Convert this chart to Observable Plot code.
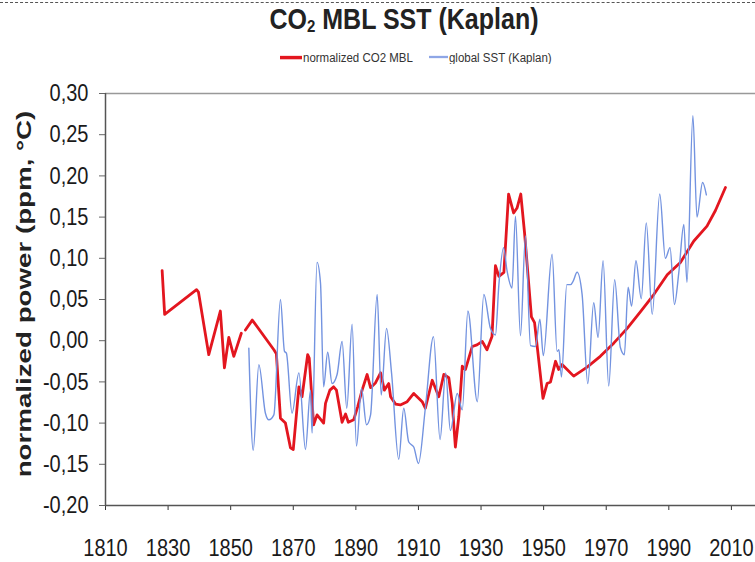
<!DOCTYPE html>
<html>
<head>
<meta charset="utf-8">
<script src="https://cdn.jsdelivr.net/npm/d3@7"></script>
<script src="https://cdn.jsdelivr.net/npm/@observablehq/plot@0.6"></script>
<style>
  body { margin: 0; background: #fff; }
  #wrap { position: relative; width: 755px; height: 562px; background: #fff; overflow: hidden; font-family: "Liberation Sans", Arial, sans-serif; }
  #dash { position: absolute; top: 2px; left: 0; width: 755px; border-top: 1px dashed #555; }
  #title { position: absolute; top: 3px; left: 404px; transform: translateX(-50%) scaleY(1.15); transform-origin: center top; font-weight: bold; font-size: 25px; color: #222; white-space: nowrap; }
  #title sub { font-size: 15px; vertical-align: -2px; }
  #legend { position: absolute; top: 51px; left: 280px; font-size: 11.5px; color: #333; white-space: nowrap; display: flex; align-items: center; transform: scaleY(1.15); transform-origin: left center; }
  .sw { display: inline-block; width: 22px; margin-right: 1px; }
  #chart { position: absolute; top: 0; left: 0; }
</style>
</head>
<body>
<div id="wrap">
  <div id="dash"></div>
  <div id="title">CO<sub>2</sub> MBL SST (Kaplan)</div>
  <div id="legend">
    <span class="sw" style="border-top:3px solid #e3161f"></span><span>normalized CO2 MBL</span>
    <span class="sw" style="border-top:2px solid #8ea6e6; margin-left:16px; width:19px"></span><span>global SST (Kaplan)</span>
  </div>
  <div id="chart"></div>
</div>
<script>
// normalized CO2 MBL (null = gap in the series)
const co2Years = [1828.1, 1828.9, 1839.1, 1839.7, 1843.0, 1846.7, 1848.0, 1849.4, 1851.0, 1853.4, 1854.0,
  1854.7, 1856.9, 1863.8, 1864.6, 1865.9, 1867.5, 1869.1, 1870.0, 1871.8, 1872.8, 1874.6, 1875.1,
  1876.5, 1877.6, 1879.7, 1880.3, 1881.7, 1882.9, 1883.8, 1885.6, 1886.7, 1887.6, 1889.3, 1890.6,
  1892.0, 1893.6, 1894.7, 1896.3, 1897.9, 1899.1, 1900.5, 1901.1, 1902.7, 1904.2, 1906.4, 1908.5,
  1911.2, 1912.2, 1914.4, 1916.5, 1918.1, 1919.7, 1920.8, 1921.8, 1922.9, 1924.0, 1925.0, 1927.2,
  1928.7, 1930.4, 1931.9, 1933.5, 1934.6, 1935.7, 1937.3, 1938.8, 1940.4, 1941.5, 1942.7, 1943.9,
  1946.1, 1947.1, 1949.8, 1951.1, 1952.2, 1953.8, 1954.8, 1955.9, 1957.5, 1959.6, 1963.9, 1968.1,
  1972.4, 1976.7, 1980.9, 1985.2, 1989.5, 1993.7, 1998.0, 2002.2, 2004.9, 2008.1];
const co2Values = [0.085, 0.032, 0.062, 0.059, -0.017, 0.036, -0.033, 0.004, -0.019, 0.009, null,
  0.013, 0.025, -0.011, -0.016, -0.094, -0.100, -0.130, -0.132, -0.056, -0.068, -0.017, -0.021,
  -0.102, -0.090, -0.100, -0.076, -0.060, -0.056, -0.060, -0.099, -0.089, -0.099, -0.096, -0.080,
  -0.060, -0.041, -0.057, -0.051, -0.039, -0.060, -0.052, -0.068, -0.077, -0.078, -0.074, -0.064,
  -0.074, -0.082, -0.048, -0.068, -0.041, -0.045, -0.076, -0.129, -0.092, -0.031, -0.035, -0.007,
  -0.005, -0.001, -0.011, 0.005, 0.091, 0.078, 0.083, 0.178, 0.155, 0.161, 0.178, 0.131,
  0.029, 0.022, -0.070, -0.052, -0.050, -0.025, -0.035, -0.029, -0.035, -0.043, -0.032, -0.019,
  -0.003, 0.015, 0.035, 0.056, 0.080, 0.095, 0.121, 0.139, 0.158, 0.186];

// global SST (Kaplan)
const sstYears = [1855.8, 1857.2, 1859.0, 1861.1, 1862.2, 1863.8, 1865.9, 1867.2, 1867.8, 1869.6,
  1871.8, 1873.9, 1875.5, 1876.0, 1877.6, 1878.7, 1879.7, 1881.0, 1882.4, 1884.0, 1885.6, 1887.1,
  1888.8, 1890.2, 1891.8, 1893.4, 1894.7, 1896.8, 1898.1, 1899.8, 1901.4, 1903.7, 1905.3, 1906.9,
  1908.5, 1910.0, 1912.2, 1914.8, 1916.9, 1918.7, 1920.2, 1922.4, 1924.0, 1925.8, 1928.8, 1930.9,
  1933.0, 1934.6, 1935.7, 1937.2, 1938.3, 1939.9, 1941.0, 1942.6, 1944.2, 1945.8, 1947.4, 1948.8,
  1949.9, 1952.7, 1954.3, 1954.9, 1955.7, 1957.4, 1958.6, 1959.4, 1960.7, 1962.3, 1964.1, 1966.0,
  1967.4, 1969.0, 1970.8, 1972.7, 1974.5, 1975.8, 1977.0, 1978.1, 1979.5, 1981.2, 1982.8, 1984.7,
  1987.1, 1988.9, 1990.4, 1991.8, 1993.2, 1994.8, 1995.8, 1997.7, 1999.0, 2000.8, 2002.0];
const sstValues = [-0.009, -0.133, -0.029, -0.088, -0.096, -0.090, 0.050, -0.013, -0.015, -0.088,
  -0.039, -0.132, -0.060, -0.112, 0.095, 0.070, -0.056, -0.014, -0.052, -0.041, -0.001, -0.082,
  0.020, -0.128, -0.058, -0.102, -0.090, 0.056, -0.066, 0.015, -0.039, -0.144, -0.082, -0.123,
  -0.129, -0.149, -0.082, 0.005, -0.120, -0.039, -0.109, -0.064, -0.084, 0.036, -0.074, 0.056,
  0.015, 0.007, 0.068, 0.113, 0.085, 0.064, 0.151, 0.006, 0.127, -0.006, -0.007, 0.026,
  -0.018, 0.105, -0.013, -0.011, -0.044, 0.068, 0.068, 0.072, 0.083, 0.056, -0.052, 0.046,
  0.004, 0.097, -0.055, 0.074, -0.008, -0.017, 0.065, 0.042, 0.097, 0.051, 0.143, 0.032,
  0.178, 0.100, 0.113, 0.044, 0.083, 0.141, 0.071, 0.273, 0.150, 0.192, 0.177];

// axis ticks
const xTicks = [1810, 1830, 1850, 1870, 1890, 1910, 1930, 1950, 1970, 1990, 2010];
const yTicks = [-0.20, -0.15, -0.10, -0.05, 0.00, 0.05, 0.10, 0.15, 0.20, 0.25, 0.30];

const co2 = co2Years.map((year, i) => ({year, value: co2Values[i]}));
const sst = sstYears.map((year, i) => ({year, value: sstValues[i]}));

const tickFont = "'Liberation Sans', Arial, sans-serif";

const chart = Plot.plot({
  width: 755,
  height: 562,
  marginLeft: 105,
  marginRight: 0,
  marginTop: 93,
  marginBottom: 57,
  style: {background: "transparent", color: "#1a1a1a", fontFamily: tickFont, fontSize: "20px"},
  x: {domain: [1810, 2017.7]},
  y: {domain: [-0.2, 0.3]},
  marks: [
    Plot.axisX({ticks: xTicks, tickFormat: d => String(d), tickSize: 5, tickPadding: 28, label: null, stroke: "#333", fontSize: 20}),
    Plot.axisY({ticks: yTicks, tickFormat: d => d.toFixed(2).replace(".", ","), tickSize: 6, tickPadding: 11, label: null, stroke: "#666", fontSize: 20}),
    Plot.ruleY([0.3], {stroke: "#999", strokeWidth: 1.5}),
    Plot.ruleY([-0.2], {stroke: "#555", strokeWidth: 1.5}),
    Plot.ruleX([1810], {stroke: "#555", strokeWidth: 1.5}),
    Plot.line(co2, {x: "year", y: "value", stroke: "#e3161f", strokeWidth: 2.8, defined: d => d.value != null}),
    Plot.line(sst, {x: "year", y: "value", stroke: "#7393e0", strokeWidth: 1.4, curve: "monotone-x"})
  ]
});

// stretch tick labels vertically (the reference's lettering is tall and narrow)
d3.select(chart).selectAll('g[aria-label="x-axis tick label"] text, g[aria-label="y-axis tick label"] text')
  .each(function() {
    const t = d3.select(this);
    const tr = t.attr("transform");
    if (tr) {
      t.attr("transform", tr + " scale(1,1.2)");
    } else {
      const x = +t.attr("x") || 0, y = +t.attr("y") || 0;
      t.attr("x", null).attr("y", null).attr("transform", `translate(${x},${y}) scale(1,1.2)`);
    }
  });

d3.select(chart).append("text")
  .attr("transform", "translate(31,294) rotate(-90) scale(1.32,1)")
  .attr("text-anchor", "middle")
  .attr("font-family", "'Liberation Sans', Arial, sans-serif")
  .attr("font-weight", "bold")
  .attr("font-size", 21)
  .attr("fill", "#222")
  .text("normalized power (ppm, °C)");

document.getElementById("chart").appendChild(chart);
</script>
</body>
</html>
